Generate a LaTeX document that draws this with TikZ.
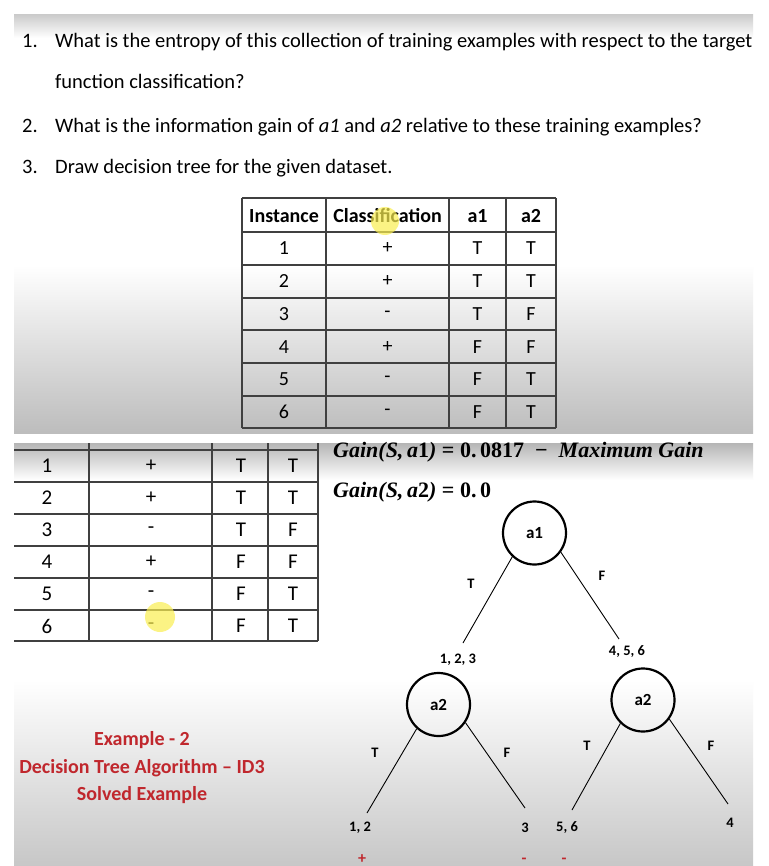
\documentclass[tikz,border=0pt]{standalone}
\usepackage{fontspec}
\setmainfont{Carlito}
\newfontfamily\gainfont{Liberation Serif}
\usetikzlibrary{positioning}
\definecolor{exred}{RGB}{192,39,45}
\definecolor{hilite}{RGB}{250,238,80}

\tikzset{
  qtext/.style={anchor=base west, inner sep=0pt, font=\fontsize{20.5}{24}\selectfont},
  cell/.style={inner sep=0pt, font=\fontsize{20}{24}\selectfont},
  headcell/.style={inner sep=0pt, font=\fontsize{20}{24}\selectfont\bfseries},
  bigcell/.style={inner sep=0pt, font=\fontsize{21}{24}\selectfont},
  grid/.style={line width=1.1pt, color=black!75},
  attr/.style={circle, draw, line width=2.2pt, minimum size=63pt, inner sep=0pt, font=\fontsize{17}{17}\selectfont\bfseries},
  branch/.style={line width=0.9pt},
  lbl/.style={inner sep=0pt, font=\fontsize{14.5}{16}\selectfont\bfseries},
  sign/.style={anchor=base, inner sep=0pt, text=exred, font=\fontsize{16}{16}\selectfont\bfseries},
  gain/.style={anchor=base west, inner sep=0pt, font=\fontsize{22}{24}\gainfont\bfseries\itshape}
}

\begin{document}
\begin{tikzpicture}[x=1pt,y=-1pt]
  \useasboundingbox (0,0) rectangle (768,866);
  \fill[white] (0,0) rectangle (768,866);

  % upper slide
  \fill[white] (14,15) rectangle (753,433);
  \shade[top color=black!20, bottom color=white] (14,15) rectangle (753,38);
  \shade[top color=white, bottom color=black!26] (14,265) rectangle (753,433);

  % lower slide
  \fill[white] (14,443) rectangle (753,866);
  \shade[top color=black!29, bottom color=white] (14,443) rectangle (753,480);
  \shade[top color=white, bottom color=black!22] (14,680) rectangle (753,866);

  % questions
  \node[qtext] (q1n) at (22,48) {1.};
  \node[qtext] (q1) at (55,48) {What is the entropy of this collection of training examples with respect to the target};
  \node[qtext] (q1b) at (55,89) {function classification?};
  \node[qtext] (q2n) at (22,133) {2.};
  \node[qtext] (q2) at (55,133) {What is the information gain of \textit{a1} and \textit{a2} relative to these training examples?};
  \node[qtext] (q3n) at (22,174) {3.};
  \node[qtext] (q3) at (55,174) {Draw decision tree for the given dataset.};

  % data table
  \foreach \y in {198,232,265,298,330,363,396,428}
  {
  \draw[grid] (242,\y) -- (556,\y);
  }
  \foreach \x in {242,326,449,506,556}
  {
  \draw[grid] (\x,198) -- (\x,428);
  }
  \node[headcell] (hinst) at (284,216) {Instance};
  \node[headcell] (hclass) at (387.5,216) {Classification};
  \node[headcell] (ha1) at (477.5,216) {a1};
  \node[headcell] (ha2) at (531,216) {a2};
  \foreach \n/\c/\p/\q [count=\i] in {1/+/T/T,2/+/T/T,3/-/T/F,4/+/F/F,5/-/F/T,6/-/F/T}
  {
  \node[cell] (id\i) at (284,215.5+32.8*\i) {\n};
  \node[cell] (cl\i) at (387.5,215.5+32.8*\i) {\c};
  \node[cell] (va\i) at (477.5,215.5+32.8*\i) {\p};
  \node[cell] (vb\i) at (531,215.5+32.8*\i) {\q};
  }
  \fill[hilite, opacity=0.7] (385,221) circle (14pt);

  % copy of the table
  \foreach \y in {450,482,514,546,578,610,641}
  {
  \draw[grid] (14,\y) -- (318,\y);
  }
  \foreach \x in {89,212,268,318}
  {
  \draw[grid] (\x,443) -- (\x,641);
  }
  \foreach \n/\c/\p/\q [count=\i] in {1/+/T/T,2/+/T/T,3/-/T/F,4/+/F/F,5/-/F/T,6/-/F/T}
  {
  \node[bigcell] (cid\i) at (47,434+32*\i) {\n};
  \node[bigcell] (ccl\i) at (151,434+32*\i) {\c};
  \node[bigcell] (cva\i) at (241,434+32*\i) {\p};
  \node[bigcell] (cvb\i) at (293,434+32*\i) {\q};
  }
  \fill[hilite, opacity=0.7] (160,617) circle (15pt);

  % gains
  \node[gain] (g1) at (333,457) {Gain(S,\,a{\upshape 1}) {\upshape = 0.\,0817}\enspace{\upshape −}\enspace Maximum Gain};
  \node[gain] (g2) at (333,497) {Gain(S,\,a{\upshape 2}) {\upshape = 0.\,0}};

  % tree
  \node[attr] (root) at (534.5,533) {a1};
  \node[attr] (lsub) at (438.5,704.5) {a2};
  \node[attr] (rsub) at (643,700) {a2};
  \coordinate (lend) at (463,643);
  \coordinate (rend) at (619,639);
  \coordinate (llend) at (367,813);
  \coordinate (lrend) at (525,808);
  \coordinate (rlend) at (572,810);
  \coordinate (rrend) at (728,804);
  \draw[branch] (root.227) -- (lend);
  \draw[branch] (root.324) -- (rend);
  \draw[branch] (lsub.228) -- (llend);
  \draw[branch] (lsub.326) -- (lrend);
  \draw[branch] (rsub.226) -- (rlend);
  \draw[branch] (rsub.324) -- (rrend);
  \node[lbl] (t1) at (471,584) {T};
  \node[lbl] (f1) at (602,576) {F};
  \node[lbl] (t2) at (375,753) {T};
  \node[lbl] (f2) at (507,753) {F};
  \node[lbl] (t3) at (587,746) {T};
  \node[lbl] (f3) at (711,746) {F};
  \node[lbl] (s123) at (458,660) {1, 2, 3};
  \node[lbl] (s456) at (627,652) {4, 5, 6};
  \node[lbl] (s12) at (360,828) {1, 2};
  \node[lbl] (s3) at (525,828) {3};
  \node[lbl] (s56) at (567,828) {5, 6};
  \node[lbl] (s4) at (730,823) {4};
  \node[sign] (c12) at (362,863) {+};
  \node[sign] (c3) at (524,863) {-};
  \node[sign] (c56) at (564,863) {-};

  % caption
  \node[align=center, text=exred, inner sep=0pt, font=\fontsize{20}{27.5}\selectfont\bfseries] (caption) at (142,768)
    {Example - 2\\Decision Tree Algorithm – ID3\\Solved Example};
\end{tikzpicture}
\end{document}
